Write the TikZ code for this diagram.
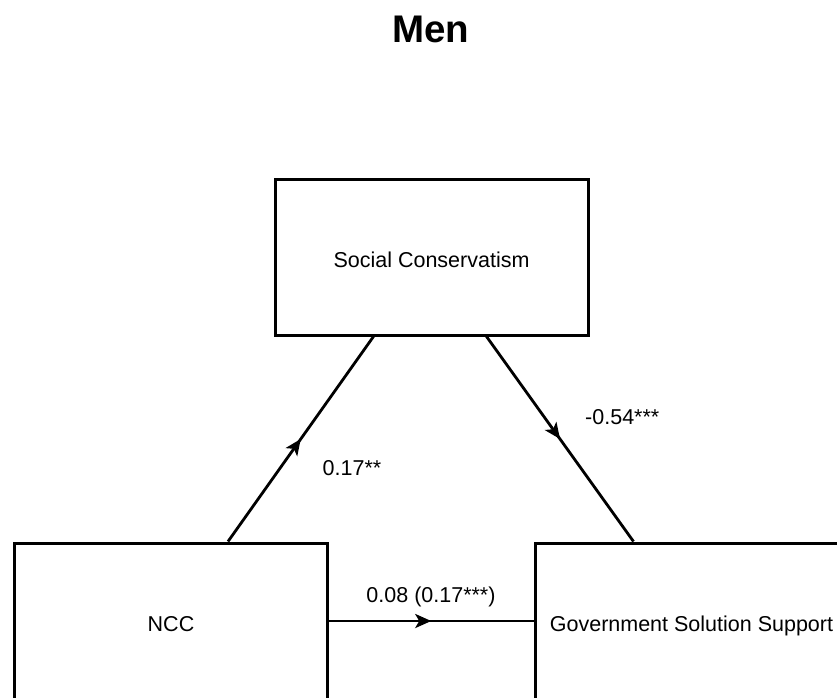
\documentclass[tikz,border=0pt]{standalone}
\usepackage{fontspec}
\setmainfont{Liberation Sans}
\usepackage{tikz}
\usetikzlibrary{arrows.meta, decorations.markings}

\begin{document}
\begin{tikzpicture}[
  x=1pt, y=-1pt,
  font=\fontsize{21.5}{24}\selectfont,
  varbox/.style={draw=black, line width=3pt, fill=white, inner sep=0pt,
    minimum width=313pt, minimum height=156pt, text height=20pt, text depth=0pt},
  path/.style={black, line width=2.8pt,
    postaction={decorate},
    decoration={markings, mark=at position 0.5 with {\arrow{Stealth[length=16pt, width=14pt, inset=4pt]}}}},
  coef/.style={anchor=base, inner sep=0pt},
]
% picture frame, the lower boxes run past it
\useasboundingbox (0,0) rectangle (837,697);
\clip (0,0) rectangle (837,697);
\node[anchor=base, font=\fontsize{38.5}{40}\selectfont\bfseries] (title) at (431,42) {Men};
% the three variables
\node[varbox] (soc) at (431.5,257) {Social Conservatism};
\node[varbox] (ncc) at (171,621) {NCC};
\node[varbox] (gov) at (691.5,621) {Government Solution Support};
% paths with coefficients
\draw[path] ([xshift=215pt]ncc.north west) -- ([xshift=100pt]soc.south west);
\draw[path] ([xshift=213pt]soc.south west) -- ([xshift=100pt]gov.north west);
\draw[path] (ncc.east) -- (gov.west);
\node[coef] (a) at (352,475) {0.17**};
\node[coef, anchor=base west] (b) at (585,424) {-0.54***};
\node[coef] (c) at (431,602) {0.08 (0.17***)};
\end{tikzpicture}
\end{document}
